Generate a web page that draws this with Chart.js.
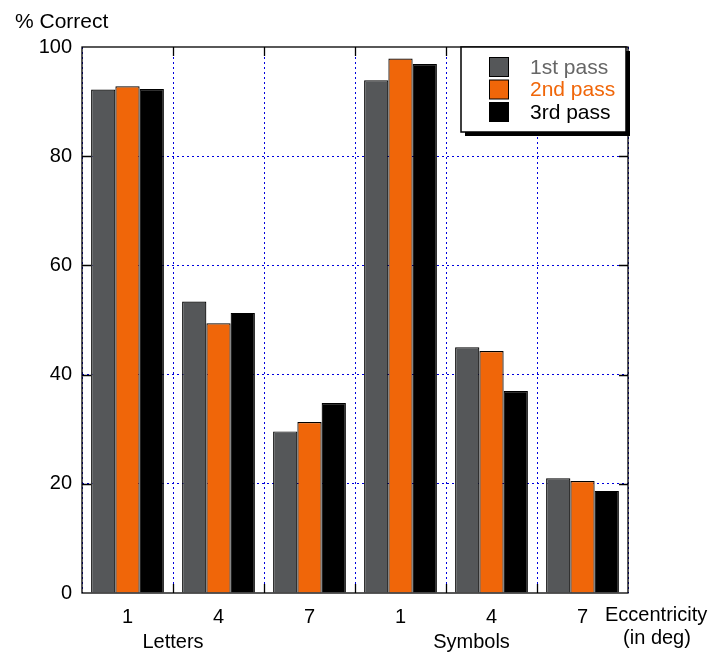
<!DOCTYPE html>
<html>
<head>
<meta charset="utf-8">
<script src="https://cdn.jsdelivr.net/npm/chart.js@4/dist/chart.umd.min.js"></script>
<style>
  html, body { margin: 0; padding: 0; background: #fff; }
  canvas { display: block; }
</style>
</head>
<body>
<canvas id="passChart" width="722" height="654"></canvas>
<script>
// values
const eccentricities = ["1", "4", "7", "1", "4", "7"];
const passNames = ["1st pass", "2nd pass", "3rd pass"];
const pass1 = [92.2, 53.4, 29.6, 93.9, 45.0, 21.0];
const pass2 = [92.8, 49.4, 31.3, 97.9, 44.3, 20.5];
const pass3 = [92.3, 51.3, 34.8, 96.9, 37.0, 18.7];
const yTicks = [0, 20, 40, 60, 80, 100];
const groupNames = ["Letters", "Symbols"];

const barColors = ["#555759", "#f06609", "#000000"];
const legendTextColors = ["#666666", "#f06609", "#000000"];
const gridBlue = "#0000dd";

Chart.defaults.font.family = "'Liberation Sans', Arial, sans-serif";
Chart.defaults.font.size = 20;
Chart.defaults.color = "#000";

// frame, inner tick marks, legend box and the loose labels
const decorations = {
    id: "decorations",
    afterDraw(chart) {
        const ctx = chart.ctx;
        const a = chart.chartArea;
        const x = chart.scales.x;
        const y = chart.scales.y;
        ctx.save();
        ctx.setLineDash([]);
        ctx.strokeStyle = "#000";
        ctx.lineWidth = 1.3;
        ctx.strokeRect(a.left, a.top, a.right - a.left, a.bottom - a.top);

        const tickLen = 9;
        ctx.beginPath();
        yTicks.slice(1, -1).forEach(function (v) {
            const py = Math.round(y.getPixelForValue(v)) + 0.5;
            ctx.moveTo(a.left, py); ctx.lineTo(a.left + tickLen, py);
            ctx.moveTo(a.right, py); ctx.lineTo(a.right - tickLen, py);
        });
        for (let i = 0; i < eccentricities.length - 1; i++) {
            const px = Math.round(x.getPixelForValue(i + 0.5)) + 0.5;
            ctx.moveTo(px, a.top); ctx.lineTo(px, a.top + tickLen);
            ctx.moveTo(px, a.bottom); ctx.lineTo(px, a.bottom - tickLen);
        }
        ctx.stroke();

        // legend
        const lx = 461, ly = 47, lw = 165, lh = 85;
        ctx.fillStyle = "#000";
        ctx.fillRect(lx + 4, ly + 4, lw, lh);
        ctx.fillStyle = "#fff";
        ctx.fillRect(lx, ly, lw, lh);
        ctx.lineWidth = 1.5;
        ctx.strokeRect(lx, ly, lw, lh);
        ctx.font = "21px 'Liberation Sans', Arial, sans-serif";
        ctx.textBaseline = "middle";
        ctx.textAlign = "left";
        chart.data.datasets.forEach(function (ds, i) {
            const cy = 67 + i * 22.5;
            ctx.fillStyle = ds.backgroundColor;
            ctx.fillRect(489, cy - 9.5, 20, 19);
            ctx.lineWidth = 1;
            ctx.strokeRect(489.5, cy - 9.5, 19, 19);
            ctx.fillStyle = legendTextColors[i];
            ctx.fillText(ds.label, 530, cy + 1);
        });

        // axis titles and group names
        ctx.fillStyle = "#000";
        ctx.fillText("% Correct", 15, 22);
        ctx.font = "20px 'Liberation Sans', Arial, sans-serif";
        ctx.textAlign = "center";
        ctx.fillText(groupNames[0], x.getPixelForValue(0.5), 642);
        ctx.fillText(groupNames[1], x.getPixelForValue(3.78), 642);
        ctx.textAlign = "left";
        ctx.fillText("Eccentricity", 605, 615);
        ctx.textAlign = "center";
        ctx.fillText("(in deg)", 657, 638);
        ctx.restore();
    }
};

new Chart(document.getElementById("passChart"), {
    type: "bar",
    data: {
        labels: eccentricities,
        datasets: [pass1, pass2, pass3].map(function (vals, i) {
            return {
                label: passNames[i],
                data: vals,
                backgroundColor: barColors[i],
                borderColor: "#000",
                borderWidth: 1.2,
                categoryPercentage: 0.8,
                barPercentage: 1.0
            };
        })
    },
    options: {
        responsive: false,
        animation: false,
        devicePixelRatio: 1,
        layout: { padding: { top: 47, right: 94, left: 0, bottom: 0 } },
        plugins: {
            legend: { display: false },
            tooltip: { enabled: false }
        },
        scales: {
            x: {
                grid: {
                    offset: true,
                    drawTicks: false,
                    color: gridBlue,
                    lineWidth: 1
                },
                border: { display: false, dash: [2, 3] },
                ticks: { padding: 12, color: "#000" },
                afterFit: function (scale) { scale.height = 61; }
            },
            y: {
                min: 0,
                max: 100,
                grid: {
                    drawTicks: false,
                    lineWidth: 1,
                    color: function (c) {
                        const v = c.tick ? c.tick.value : 0;
                        return (v === 0 || v === 100) ? "rgba(0,0,0,0)" : gridBlue;
                    }
                },
                border: { display: false, dash: [2, 3] },
                ticks: {
                    stepSize: 20,
                    padding: 10,
                    color: "#000"
                },
                afterBuildTicks: function (scale) {
                    scale.ticks = yTicks.map(function (v) { return { value: v }; });
                },
                afterFit: function (scale) { scale.width = 82; }
            }
        }
    },
    plugins: [decorations]
});
</script>
</body>
</html>
